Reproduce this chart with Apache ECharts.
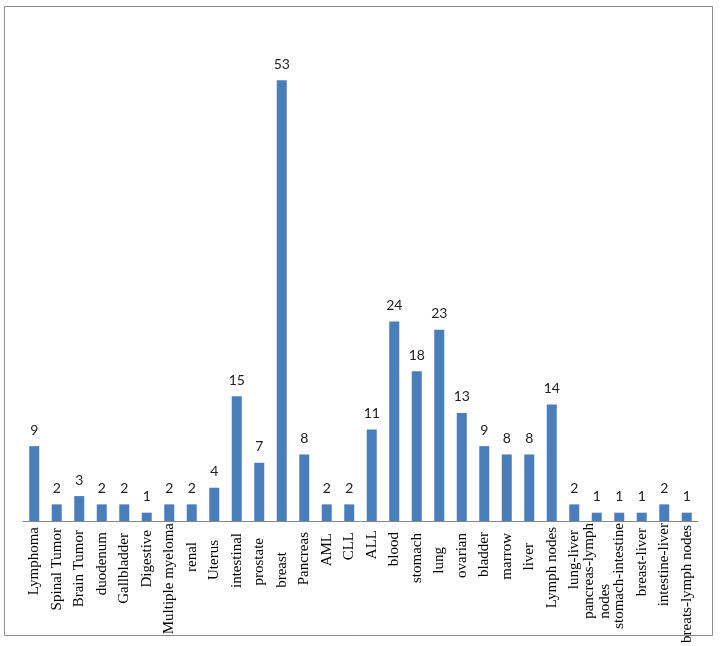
<!DOCTYPE html>
<html>
<head>
<meta charset="utf-8">
<script src="https://cdn.jsdelivr.net/npm/echarts@6/dist/echarts.min.js"></script>
<style>html,body{margin:0;padding:0;background:#fff;}#c{width:722px;height:646px;}</style>
</head>
<body>
<div id="c"></div>
<script>
var categories = ["Lymphoma","Spinal Tumor","Brain Tumor","duodenum","Gallbladder","Digestive","Multiple myeloma","renal","Uterus","intestinal","prostate","breast","Pancreas","AML","CLL","ALL","blood","stomach","lung","ovarian","bladder","marrow","liver","Lymph nodes","lung-liver","pancreas-lymph nodes","stomach-intestine","breast-liver","intestine-liver","breats-lymph nodes"];
var counts = [9,2,3,2,2,1,2,2,4,15,7,53,8,2,2,11,24,18,23,13,9,8,8,14,2,1,1,1,2,1];

// label layout tweak: gap below the axis for each label, mimicking the original placement
var labelGap = [4,5,7,9,10,7,0,19,17,10,15,29,9,10,9,7,9,10,24,10,9,10,20,4,7,0,0,5,0,2];

var rich = {};
labelGap.forEach(function(g, i){ rich['g' + i] = {padding:[0, g, 0, 0], align:'left', color:'#000', fontFamily:'Liberation Serif', fontSize:15}; });

var chart = echarts.init(document.getElementById('c'), null, {renderer:'canvas'});
chart.setOption({
  animation:false,
  backgroundColor:'#ffffff',
  graphic:[{type:'rect', shape:{x:4.5,y:6.5,width:708,height:629}, style:{fill:'none',stroke:'#8c8c8c',lineWidth:1}, silent:true}],
  grid:{left:23,right:24,top:22,bottom:125,containLabel:false,outerBoundsMode:'none'},
  xAxis:{
    type:'category', data:categories,
    axisLine:{show:true,lineStyle:{color:'#868686',width:1}},
    axisTick:{show:false},
    axisLabel:{interval:0, rotate:90, margin:2, color:'#000', fontFamily:'Liberation Serif', fontSize:15, lineHeight:16, rich:rich,
      formatter:function(v, idx){
        var parts = [v];
        if(v.length>18){var i=v.lastIndexOf(' '); parts=[v.slice(0,i), v.slice(i+1)];}
        return parts.map(function(p){ return '{g' + idx + '|' + p + '}'; }).join('\n');
      }}
  },
  yAxis:{type:'value', min:0, max:60, show:false, splitLine:{show:false}},
  series:[{
    type:'bar', data:counts, barWidth:10,
    itemStyle:{color:'#4a7ebb'},
    label:{show:true, position:'top', distance:9, color:'#222', fontFamily:'Lato', fontSize:14}
  }]
});
</script>
</body>
</html>
